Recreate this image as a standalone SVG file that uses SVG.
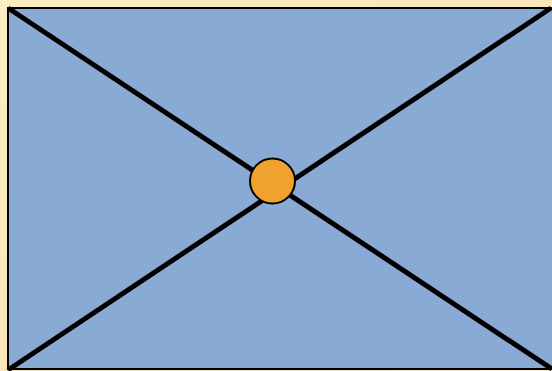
<svg xmlns="http://www.w3.org/2000/svg" width="552" height="371" viewBox="0 0 552 371">
  <defs>
    <linearGradient id="bg" x1="0" y1="0" x2="1" y2="1">
      <stop offset="0" stop-color="#fbeec4"/>
      <stop offset="0.5" stop-color="#f8e6b6"/>
      <stop offset="1" stop-color="#fbeec4"/>
    </linearGradient>
    <style>
      .diag { stroke: #000; stroke-width: 5; fill: none; }
    </style>
  </defs>
  <rect x="0" y="0" width="552" height="371" fill="url(#bg)"/>
  <g id="panel">
    <rect x="8" y="8" width="548" height="361" fill="#88aad4" stroke="#000" stroke-width="2"/>
  </g>
  <g id="connectors">
    <line class="diag" x1="8" y1="8" x2="552" y2="369"/>
    <line class="diag" x1="8" y1="370" x2="551" y2="8"/>
  </g>
  <g id="hub">
    <circle cx="272.5" cy="181" r="22.5" fill="#f0a22f" stroke="#000" stroke-width="2"/>
  </g>
</svg>
